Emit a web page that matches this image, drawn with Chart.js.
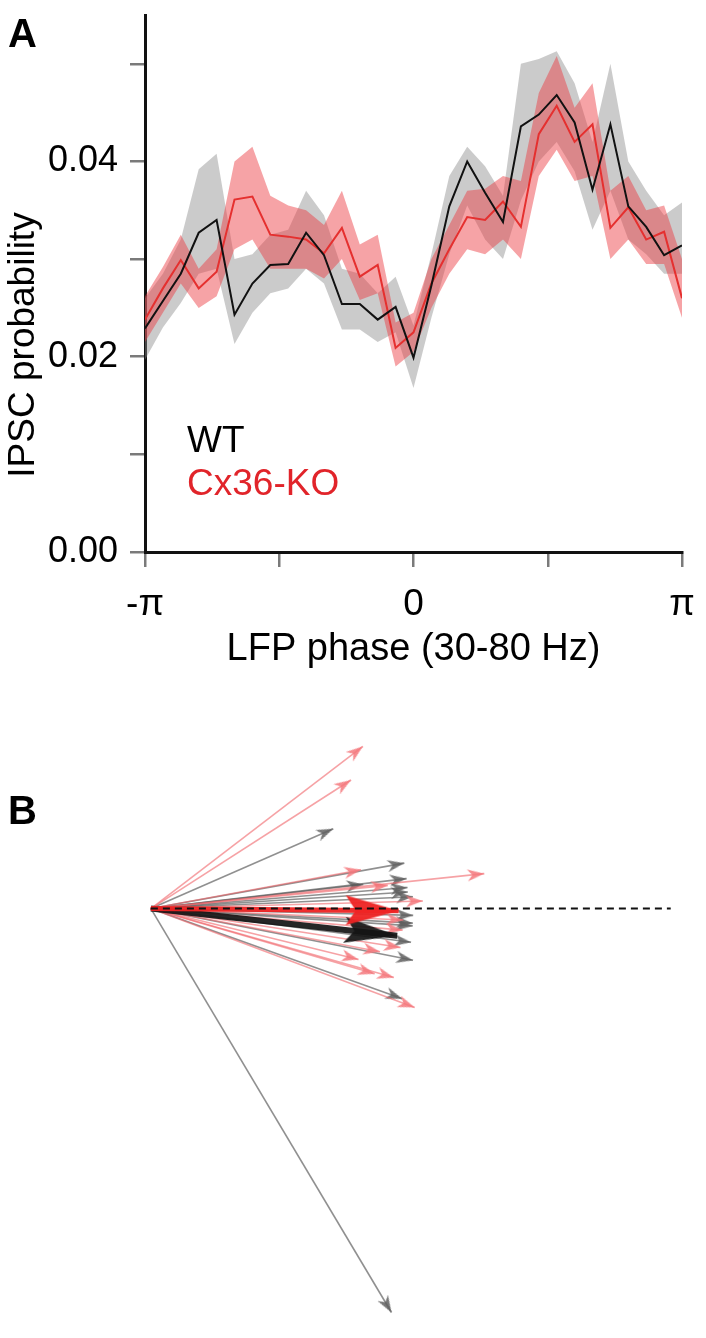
<!DOCTYPE html>
<html lang="en">
<head>
<meta charset="UTF-8">
<title>IPSC phase locking</title>
<script src="https://cdn.jsdelivr.net/npm/chart.js"></script>
<style>
  body { margin: 0; background: #fff; font-family: 'Liberation Sans', Arial, sans-serif; }
  .wrap { position: relative; width: 706px; height: 1338px; overflow: hidden; background: #fff; }
  #phaseChart { position: absolute; left: 0; top: 0; }
  #vectorChart { position: absolute; left: 0; top: 700px; }
  .panel-label { position: absolute; font-weight: bold; font-size: 40px; line-height: 40px; color: #000; }
  .legend { position: absolute; left: 187px; top: 418px; font-size: 37px; line-height: 43px; }
  .ytitle { position: absolute; left: -128px; top: 323px; width: 300px; height: 44px; line-height: 44px;
            text-align: center; font-size: 37px; color: #000; transform: rotate(-90deg); white-space: nowrap; }
</style>
</head>
<body>
<div class="wrap">
  <canvas id="phaseChart" width="706" height="680"></canvas>
  <canvas id="vectorChart" width="706" height="638"></canvas>
  <div class="panel-label" style="left:8px; top:13px;">A</div>
  <div class="panel-label" style="left:8px; top:790px;">B</div>
  <div class="ytitle">IPSC probability</div>
  <div class="legend">
    <div style="color:#000">WT</div>
    <div style="color:#e1242a">Cx36-KO</div>
  </div>
</div>

<script>
  // ---- panel A: IPSC probability vs LFP phase ----
  const phaseDeg = [-180, -168, -156, -144, -132, -120, -108, -96, -84, -72, -60, -48, -36, -24, -12,
                    0, 12, 24, 36, 48, 60, 72, 84, 96, 108, 120, 132, 144, 156, 168, 180];

  const wtMean = [0.0229, 0.0257, 0.0285, 0.0327, 0.0340, 0.0243, 0.0275, 0.0294, 0.0295, 0.0327, 0.0304,
                  0.0254, 0.0254, 0.0238, 0.0251, 0.0199, 0.0273, 0.0354, 0.0400, 0.0368, 0.0338,
                  0.0436, 0.0448, 0.0468, 0.0440, 0.0371, 0.0438, 0.0354, 0.0333, 0.0304, 0.0314];
  const wtLow  = [0.0197, 0.0230, 0.0255, 0.0285, 0.0290, 0.0213, 0.0245, 0.0265, 0.0270, 0.0290, 0.0275,
                  0.0228, 0.0228, 0.0215, 0.0225, 0.0168, 0.0240, 0.0305, 0.0355, 0.0320, 0.0300,
                  0.0360, 0.0400, 0.0420, 0.0390, 0.0330, 0.0370, 0.0320, 0.0305, 0.0285, 0.0285];
  const wtHigh = [0.0260, 0.0285, 0.0320, 0.0392, 0.0408, 0.0300, 0.0305, 0.0325, 0.0330, 0.0370, 0.0345,
                  0.0290, 0.0285, 0.0265, 0.0282, 0.0232, 0.0305, 0.0385, 0.0415, 0.0395, 0.0365,
                  0.0500, 0.0505, 0.0513, 0.0480, 0.0420, 0.0500, 0.0400, 0.0370, 0.0345, 0.0358];

  const koMean = [0.0238, 0.0270, 0.0299, 0.0270, 0.0287, 0.0361, 0.0364, 0.0325, 0.0323, 0.0320, 0.0306,
                  0.0332, 0.0282, 0.0294, 0.0209, 0.0225, 0.0275, 0.0310, 0.0343, 0.0340, 0.0359,
                  0.0333, 0.0428, 0.0457, 0.0420, 0.0438, 0.0332, 0.0353, 0.0320, 0.0328, 0.0260];
  const koLow  = [0.0215, 0.0245, 0.0275, 0.0250, 0.0262, 0.0310, 0.0320, 0.0290, 0.0290, 0.0290, 0.0280,
                  0.0300, 0.0258, 0.0265, 0.0190, 0.0205, 0.0250, 0.0285, 0.0310, 0.0305, 0.0320,
                  0.0300, 0.0385, 0.0412, 0.0380, 0.0385, 0.0300, 0.0320, 0.0295, 0.0295, 0.0240];
  const koHigh = [0.0262, 0.0292, 0.0325, 0.0290, 0.0310, 0.0400, 0.0415, 0.0365, 0.0355, 0.0350, 0.0335,
                  0.0370, 0.0315, 0.0325, 0.0235, 0.0245, 0.0300, 0.0335, 0.0370, 0.0372, 0.0385,
                  0.0380, 0.0470, 0.0508, 0.0455, 0.0480, 0.0370, 0.0385, 0.0350, 0.0355, 0.0300];

  const xTickValues = [-180, -90, 0, 90, 180];
  const xTickLabels = ['-π', '', '0', '', 'π'];
  const yTickValues = [0, 0.01, 0.02, 0.03, 0.04, 0.05];
  const yTickLabels = ['0.00', '', '0.02', '', '0.04', ''];

  const FONT = "'Liberation Sans', Arial, sans-serif";
  const pts = ys => ys.map((v, i) => ({ x: phaseDeg[i], y: v }));
  const noLine = 'rgba(0,0,0,0)';

  new Chart(document.getElementById('phaseChart'), {
    type: 'line',
    data: {
      datasets: [
        { label: 'WT', data: pts(wtMean), borderColor: '#111', borderWidth: 2, pointRadius: 0, fill: false },
        { label: 'Cx36-KO', data: pts(koMean), borderColor: '#e5302f', borderWidth: 2, pointRadius: 0, fill: false },
        { data: pts(koHigh), borderColor: noLine, borderWidth: 0, pointRadius: 0,
          backgroundColor: 'rgba(235,60,65,0.47)', fill: 3 },
        { data: pts(koLow), borderColor: noLine, borderWidth: 0, pointRadius: 0, fill: false },
        { data: pts(wtHigh), borderColor: noLine, borderWidth: 0, pointRadius: 0,
          backgroundColor: 'rgba(140,140,140,0.45)', fill: 5 },
        { data: pts(wtLow), borderColor: noLine, borderWidth: 0, pointRadius: 0, fill: false }
      ]
    },
    options: {
      responsive: false,
      animation: false,
      devicePixelRatio: 1,
      layout: { padding: { top: 15, right: 24, left: 0, bottom: 0 } },
      elements: { line: { tension: 0 } },
      plugins: { legend: { display: false }, tooltip: { enabled: false } },
      scales: {
        x: {
          type: 'linear', min: -180, max: 180,
          afterBuildTicks: s => { s.ticks = xTickValues.map(v => ({ value: v })); },
          afterFit: s => { s.height = 128; s.paddingLeft = 0; s.paddingRight = 0; },
          ticks: {
            callback: v => xTickLabels[xTickValues.indexOf(v)],
            font: { family: FONT, size: 37 }, color: '#000', padding: 16,
            maxRotation: 0, autoSkip: false
          },
          grid: { drawOnChartArea: false, tickLength: 15, color: '#7a7a7a', lineWidth: 2.5 },
          border: { color: '#111', width: 3 },
          title: { display: true, text: 'LFP phase (30-80 Hz)', color: '#000',
                   font: { family: FONT, size: 38 }, padding: { top: 0, bottom: 8 } }
        },
        y: {
          min: 0, max: 0.055,
          afterBuildTicks: s => { s.ticks = yTickValues.map(v => ({ value: v })); },
          afterFit: s => { s.width = 145; s.paddingTop = 0; s.paddingBottom = 0; },
          ticks: {
            callback: v => yTickLabels[yTickValues.indexOf(v)],
            font: { family: FONT, size: 36 }, color: '#000', padding: 12, autoSkip: false
          },
          grid: { drawOnChartArea: false, tickLength: 15, color: '#7a7a7a', lineWidth: 2.5 },
          border: { color: '#111', width: 3 }
        }
      }
    }
  });

  // ---- panel B: preferred phase vectors (angle in degrees, length = vector strength) ----
  const wtAngles  = [23.7, 10.2, 6.7, 6.5, 4.7, 3.7, 2.6, -1.5, -3.2, -3.8, -7.4, -11.2, -19.8, -59.3];
  const wtLengths = [0.41, 0.53, 0.53, 0.44, 0.53, 0.53, 0.54, 0.54, 0.54, 0.54, 0.54, 0.55, 0.55, 0.97];
  const koAngles  = [37.5, 32.8, 10.5, 6.0, 5.6, 1.6, -2.6, -4.9, -8.9, -10.7, -13.8, -16.3, -15.9, -20.6];
  const koLengths = [0.55, 0.49, 0.44, 0.69, 0.49, 0.56, 0.52, 0.52, 0.52, 0.48, 0.44, 0.48, 0.52, 0.58];
  const wtMeanVec = { angle: -6.3, length: 0.51 };
  const koMeanVec = { angle: -0.5, length: 0.51 };
  const refLine = [{ x: 0, y: 0 }, { x: 1.07, y: 0 }];

  function arrowHead(len, half, notch, color) {
    const c = document.createElement('canvas');
    c.width = Math.ceil(2 * len + 4);
    c.height = Math.ceil(2 * half + 4);
    const g = c.getContext('2d');
    const cx = c.width / 2, cy = c.height / 2;
    g.fillStyle = color;
    g.beginPath();
    g.moveTo(cx, cy);
    g.lineTo(cx - len, cy - half);
    g.lineTo(cx - len + notch, cy);
    g.lineTo(cx - len, cy + half);
    g.closePath();
    g.fill();
    return c;
  }

  const toXY = (deg, r) => ({ x: r * Math.cos(deg * Math.PI / 180), y: r * Math.sin(deg * Math.PI / 180) });

  // rotate the head along the drawn shaft, measured in pixels
  function tipRotation(ctx) {
    const d = ctx.chart.data.datasets[ctx.datasetIndex].data;
    const sx = ctx.chart.scales.x, sy = ctx.chart.scales.y;
    const dx = sx.getPixelForValue(d[1].x) - sx.getPixelForValue(d[0].x);
    const dy = sy.getPixelForValue(d[1].y) - sy.getPixelForValue(d[0].y);
    return Math.atan2(dy, dx) * 180 / Math.PI;
  }

  function arrowSet(deg, r, color, width, head) {
    return {
      data: [{ x: 0, y: 0 }, toXY(deg, r)],
      showLine: true, borderColor: color, borderWidth: width,
      pointRadius: [0, 2], pointStyle: head, pointRotation: tipRotation, clip: false
    };
  }

  const grayHead = arrowHead(17, 6, 5, 'rgba(95,95,95,0.85)');
  const pinkHead = arrowHead(17, 6, 5, 'rgba(245,120,125,0.85)');
  const redHead = arrowHead(53, 15, 10, 'rgba(238,35,35,0.95)');
  const blackHead = arrowHead(53, 13, 10, 'rgba(20,20,20,0.92)');

  const vecSets = [
    { data: refLine, showLine: true, borderColor: '#111', borderWidth: 2, borderDash: [7, 5],
      pointRadius: 0, clip: false },
    arrowSet(koMeanVec.angle, koMeanVec.length, 'rgba(238,35,35,0.95)', 5, redHead),
    arrowSet(wtMeanVec.angle, wtMeanVec.length, 'rgba(20,20,20,0.92)', 6, blackHead)
  ];
  koAngles.forEach((a, i) => vecSets.push(arrowSet(a, koLengths[i], 'rgba(240,100,105,0.6)', 1.6, pinkHead)));
  wtAngles.forEach((a, i) => vecSets.push(arrowSet(a, wtLengths[i], 'rgba(85,85,85,0.65)', 1.6, grayHead)));

  new Chart(document.getElementById('vectorChart'), {
    type: 'scatter',
    data: { datasets: vecSets },
    options: {
      responsive: false,
      animation: false,
      devicePixelRatio: 1,
      layout: { padding: 0 },
      plugins: { legend: { display: false }, tooltip: { enabled: false } },
      scales: {
        x: { display: false, min: -0.29, max: 1.122 },
        y: { display: false, min: -0.866, max: 0.41 }
      }
    }
  });
</script>
</body>
</html>
